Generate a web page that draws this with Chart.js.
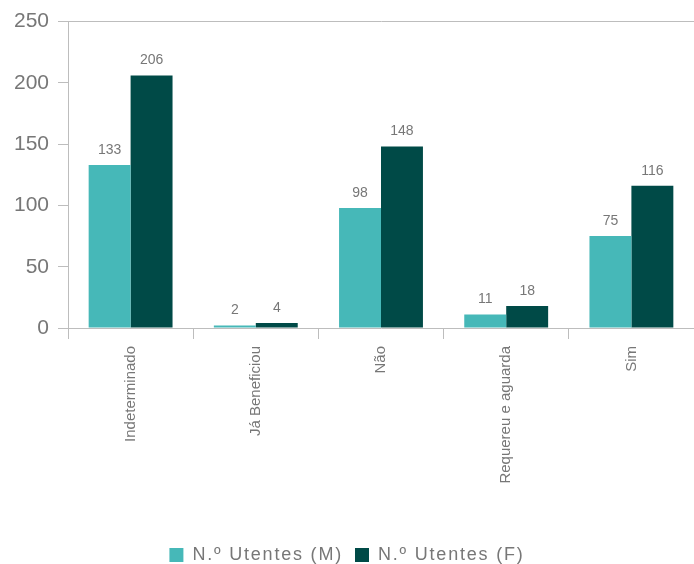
<!DOCTYPE html>
<html>
<head>
<meta charset="utf-8">
<script src="https://cdn.jsdelivr.net/npm/chart.js@4/dist/chart.umd.min.js"></script>
<style>
  html, body { margin: 0; padding: 0; background: #fff; }
  #wrap { width: 694px; height: 564px; }
</style>
</head>
<body>
<div id="wrap"><canvas id="grafico"></canvas></div>
<script>
// --- dados ---
const categorias = ['Indeterminado', 'Já Beneficiou', 'Não', 'Requereu e aguarda', 'Sim'];
const utentesM = [133, 2, 98, 11, 75];
const utentesF = [206, 4, 148, 18, 116];
const ticksY = [0, 50, 100, 150, 200, 250];

const cinza = '#777777';
const linha = '#bdbdbd';
const fonte = '"Liberation Sans", Arial, sans-serif';

// etiquetas de valor por cima das barras
const etiquetas = {
    id: 'etiquetas',
    afterDatasetsDraw(chart) {
        const ctx = chart.ctx;
        ctx.save();
        ctx.font = '14px ' + fonte;
        ctx.fillStyle = cinza;
        ctx.textAlign = 'center';
        ctx.textBaseline = 'bottom';
        chart.data.datasets.forEach((ds, i) => {
            chart.getDatasetMeta(i).data.forEach((bar, j) => {
                ctx.fillText(ds.data[j], bar.x, bar.y - 8);
            });
        });
        ctx.restore();
    }
};

// legenda com letras mais espaçadas
const espacamento = {
    id: 'espacamento',
    afterInit(chart) {
        const leg = chart.legend;
        if (!leg) return;
        ['fit', 'draw'].forEach(nome => {
            const orig = leg[nome];
            leg[nome] = function() {
                const ctx = chart.ctx;
                const antes = ctx.letterSpacing;
                ctx.letterSpacing = '1.8px';
                const r = orig.apply(this, arguments);
                ctx.letterSpacing = antes || '0px';
                return r;
            };
        });
    }
};

new Chart(document.getElementById('grafico'), {
    type: 'bar',
    data: {
        labels: categorias,
        datasets: [
            { label: 'N.º Utentes (M)', data: utentesM, backgroundColor: '#46b8b8' },
            { label: 'N.º Utentes (F)', data: utentesF, backgroundColor: '#004a47' }
        ]
    },
    options: {
        responsive: true,
        maintainAspectRatio: false,
        animation: false,
        datasets: { bar: { categoryPercentage: 0.67, barPercentage: 1.0 } },
        layout: { padding: { top: 14, right: 0, bottom: -10, left: 0 } },
        scales: {
            x: {
                grid: { display: true, drawOnChartArea: false, offset: true, color: linha, tickLength: 11 },
                border: { color: linha },
                ticks: {
                    color: cinza,
                    minRotation: 90,
                    maxRotation: 90,
                    padding: 7,
                    font: { family: fonte, size: 15 }
                },
                afterFit(scale) { scale.height = 206; }
            },
            y: {
                min: 0,
                max: 250,
                afterBuildTicks(scale) { scale.ticks = ticksY.map(v => ({ value: v })); },
                grid: {
                    color: c => (c.tick && c.tick.value === 250 ? linha : 'rgba(0,0,0,0)'),
                    tickColor: linha,
                    tickLength: 10
                },
                border: { color: linha },
                ticks: {
                    color: cinza,
                    padding: 9,
                    font: { family: fonte, size: 21 }
                },
                afterFit(scale) { scale.width = 68; }
            }
        },
        plugins: {
            legend: {
                position: 'bottom',
                labels: {
                    color: cinza,
                    boxWidth: 14,
                    boxHeight: 14,
                    padding: 12,
                    font: { family: fonte, size: 18 }
                }
            },
            tooltip: { enabled: false }
        }
    },
    plugins: [etiquetas, espacamento]
});
</script>
</body>
</html>
